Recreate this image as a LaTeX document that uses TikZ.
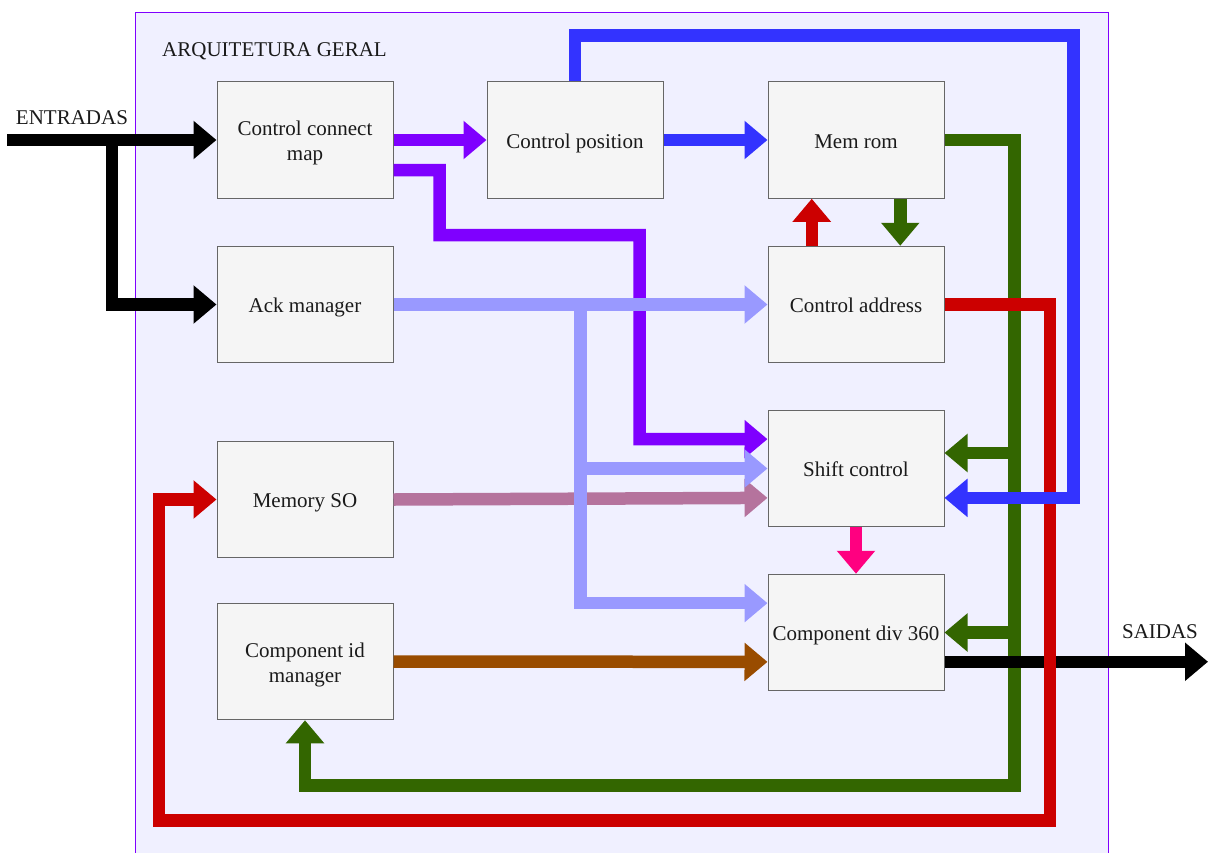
\documentclass[tikz,border=0pt]{standalone}
\usepackage{fontspec}
\setmainfont{Liberation Serif}
\usetikzlibrary{arrows.meta,calc}

\definecolor{framefill}{HTML}{F0F0FF}
\definecolor{framedraw}{HTML}{7F00FF}
\definecolor{boxfill}{HTML}{F5F5F5}
\definecolor{boxdraw}{HTML}{666666}
\definecolor{boxtext}{HTML}{1A1A1A}
\definecolor{cpurple}{HTML}{7F00FF}
\definecolor{cblue}{HTML}{3333FF}
\definecolor{cgreen}{HTML}{336600}
\definecolor{cred}{HTML}{CC0000}
\definecolor{clight}{HTML}{9999FF}
\definecolor{cmauve}{HTML}{B5739D}
\definecolor{cpink}{HTML}{FF0080}
\definecolor{cbrown}{HTML}{994C00}

% block caption: centred lines, set slightly below the geometric middle
\newcommand\boxtxt[1]{\raisebox{-3pt}[\height][\depth]{\begin{tabular}{@{}c@{}}#1\end{tabular}}}

\tikzset{
  blk/.style={draw=boxdraw, fill=boxfill, line width=1pt, minimum width=176pt,
    minimum height=116.5pt, inner sep=0pt, text=boxtext,
    font=\fontsize{21}{25}\selectfont},
  lbl/.style={inner sep=0pt, text=boxtext, font=\fontsize{21}{25}\selectfont},
  flow/.style={line width=12.5pt, line join=miter,
    -{Triangle[length=23pt,width=37pt]}},
}

\begin{document}
\begin{tikzpicture}[x=1pt,y=-1pt]
  \useasboundingbox (0,0) rectangle (1208,852);

  % enclosing block
  \fill[framefill] (135,12) rectangle (1108,880);
  \draw[framedraw, line width=1pt] (1108,880) -- (1108,12) -- (135,12) -- (135,880);
  \node[lbl, anchor=west] (title) at (162,51) {ARQUITETURA GERAL};

  % functional blocks
  \node[blk] (ccm) at (305,140)   {\boxtxt{Control connect\\map}};
  \node[blk] (cp)  at (575,140)   {\boxtxt{Control position}};
  \node[blk] (mr)  at (856,140)   {\boxtxt{Mem rom}};
  \node[blk] (am)  at (305,304.5) {\boxtxt{Ack manager}};
  \node[blk] (ca)  at (856,304.5) {\boxtxt{Control address}};
  \node[blk] (sc)  at (856,468.5) {\boxtxt{Shift control}};
  \node[blk] (ms)  at (305,499.5) {\boxtxt{Memory SO}};
  \node[blk] (cim) at (305,661.5) {\boxtxt{Component id\\manager}};
  \node[blk] (cd)  at (856,632.5) {\boxtxt{Component div 360}};

  % external ports
  \coordinate (ein) at (7,140);
  \coordinate (esplit) at (112,140);
  \coordinate (eout) at (1208,661.75);
  \node[lbl] (entr) at (72,118) {ENTRADAS};
  \node[lbl] (said) at (1160,632) {SAIDAS};

  % branch points
  \coordinate (gsc) at (1014.5,453);
  \coordinate (gcd) at (1014.5,632.5);
  \coordinate (lsplit) at (580.5,304.5);
  \coordinate (lsc) at (580.5,468.5);

  % green: Mem rom feedback
  \draw[flow,cgreen] (mr.east) -| (1014.5,785.5) -| (cim.south);
  \draw[flow,cgreen] (gsc) -- ($(sc.east)+(0,-15.5)$);
  \draw[flow,cgreen] (gcd) -- (cd.east);
  \draw[flow,cgreen] ($(mr.south west)!0.75!(mr.south east)$) -- ($(ca.north west)!0.75!(ca.north east)$);

  % inputs and outputs
  \draw[flow,black] (ein) -- (ccm.west);
  \draw[flow,black] (esplit) |- (am.west);
  \draw[flow,black] (cd.east |- eout) -- (eout);

  % red: Control address
  \draw[flow,cred] (ca.east) -| (1050,820.5) -| (159,499.5) -- (ms.west);
  \draw[flow,cred] ($(ca.north west)!0.25!(ca.north east)$) -- ($(mr.south west)!0.25!(mr.south east)$);

  % blue: Control position
  \draw[flow,cblue] (cp.east) -- (mr.west);
  \draw[flow,cblue] (cp.north) |- (1073.5,35.5) |- ($(sc.north east)!0.75!(sc.south east)$);

  % purple: Control connect map
  \draw[flow,cpurple] (ccm.east) -- (cp.west);
  \draw[flow,cpurple] ($(ccm.east)+(0,30)$) -| (439.5,235) -| (639.5,439) -- ($(sc.north west)!0.25!(sc.south west)$);

  % remaining links
  \draw[flow,cpink] (sc.south) -- (cd.north);
  \draw[flow,cbrown] (cim.east) -- ($(cd.north west)!0.75!(cd.south west)$);
  \draw[flow,cmauve] (ms.east) -- ($(sc.north west)!0.75!(sc.south west)$);

  % light blue: Ack manager
  \draw[flow,clight] (am.east) -- (ca.west);
  \draw[flow,clight] (lsplit) |- ($(cd.north west)!0.25!(cd.south west)$);
  \draw[flow,clight] (lsc) -- (sc.west);
\end{tikzpicture}
\end{document}
